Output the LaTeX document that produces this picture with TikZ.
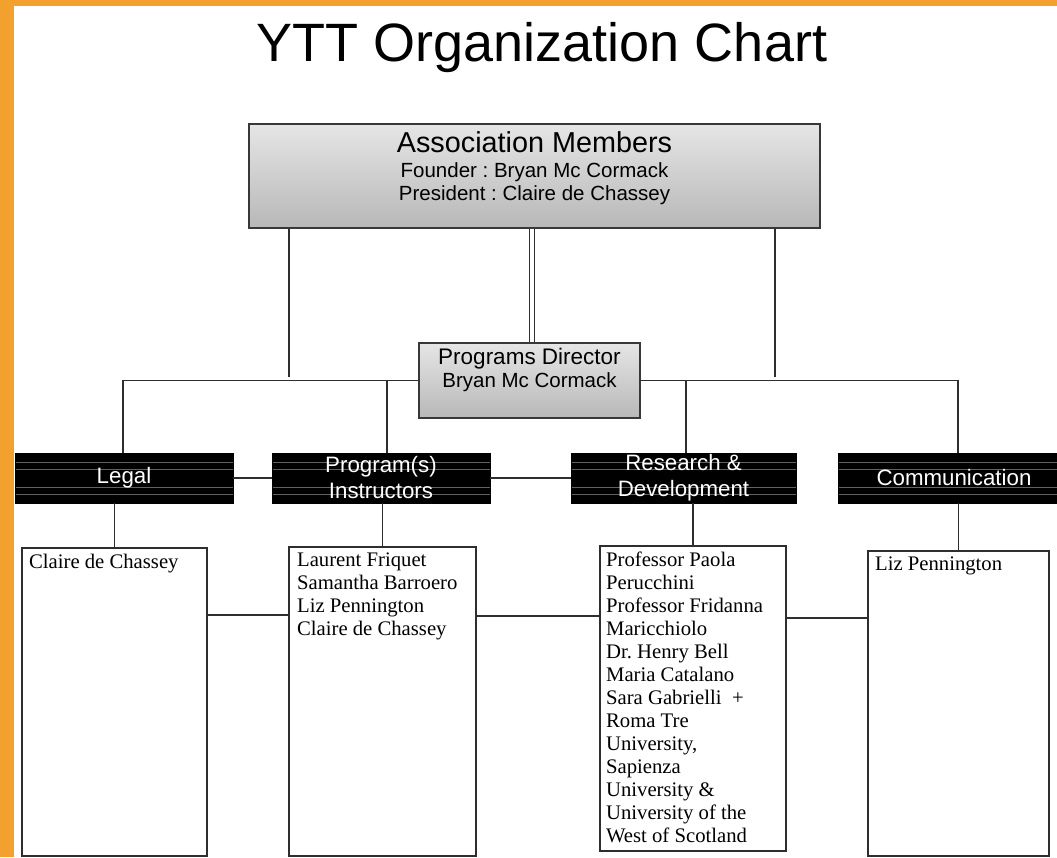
\documentclass[tikz,border=0pt]{standalone}
\usepackage{fontspec}
\setmainfont{Liberation Sans}
\newfontfamily\namefont{Liberation Serif}
\definecolor{frameorange}{RGB}{242,160,46}
\frenchspacing

\begin{document}
\begin{tikzpicture}[x=1pt,y=-1pt]
  \tikzset{graybox/.style={draw=black!78,line width=1.8pt,top color=black!10,bottom color=black!28,inner sep=0pt},
    blackbox/.style={draw=black,fill=black,text=white,align=center,inner ysep=0pt,minimum height=50pt,
      font=\fontsize{22.3}{26}\selectfont,
      path picture={\foreach \s in {9,16.5,34,41.5}{\draw[black!62,line width=0.5pt] ([yshift=-\s pt]path picture bounding box.north west) -- ([yshift=-\s pt]path picture bounding box.north east);}}},
    namebox/.style={draw=black!82,line width=2.2pt,fill=white,inner sep=0pt},
    names/.style={anchor=north west,align=left,inner sep=0pt,font=\namefont\fontsize{20.7}{23}\selectfont},
    link/.style={draw=black!82,line width=1.8pt},
    dbl/.style={draw=black!82,line width=1.3pt,double=white,double distance=4pt}}

  \clip (0,0) rectangle (1057,857);
  \fill[white] (0,0) rectangle (1057,857);
  \fill[frameorange] (0,0) rectangle (1057,6);
  \fill[frameorange] (0,0) rectangle (14,857);

  \node[anchor=base,inner sep=0pt,font=\fontsize{54}{60}\selectfont] (title) at (542,61) {YTT Organization Chart};

  % top of the chart
  \node[graybox,minimum width=571pt,minimum height=104pt] (assoc) at (534.5,176) {};
  \node[anchor=base,inner sep=0pt,font=\fontsize{28.8}{32}\selectfont] at ([yshift=-29pt]assoc.north) {Association Members};
  \node[anchor=base,inner sep=0pt,font=\fontsize{20.5}{23}\selectfont] at ([yshift=-54pt]assoc.north) {Founder : Bryan Mc Cormack};
  \node[anchor=base,inner sep=0pt,font=\fontsize{20.5}{23}\selectfont] at ([yshift=-77pt]assoc.north) {President : Claire de Chassey};

  \node[graybox,minimum width=221pt,minimum height=75pt] (director) at (529.5,380.5) {};
  \node[anchor=base,inner sep=0pt,font=\fontsize{22.5}{25}\selectfont] at ([yshift=-22pt]director.north) {Programs Director};
  \node[anchor=base,inner sep=0pt,font=\fontsize{20.5}{23}\selectfont] at ([yshift=-45pt]director.north) {Bryan Mc Cormack};

  \coordinate (spine) at (532,0);
  \coordinate (stubL) at (289,377);
  \coordinate (stubR) at (775,377);
  \draw[dbl] (spine |- assoc.south) -- (spine |- director.north);
  \draw[link] (stubL |- assoc.south) -- (stubL);
  \draw[link] (stubR |- assoc.south) -- (stubR);

  % departments
  \node[blackbox,minimum width=218pt] (legal) at (124,478) {Legal};
  \node[blackbox,minimum width=218pt] (instr) at (381,478) {Program(s)\\Instructors};
  \node[blackbox,minimum width=225pt] (research) at (683.5,478) {Research \&\\Development};
  \node[blackbox,minimum width=232pt] (comm) at (954,478) {Communication};

  \draw[link] (director.west) -| ([xshift=-1pt]legal.north);
  \draw[link] ([xshift=6pt]instr.north) |- (director.west);
  \draw[link] (director.east) -| ([xshift=4pt]comm.north);
  \draw[link] ([xshift=2.5pt]research.north) |- (director.east);
  \draw[link] (legal) -- (instr);
  \draw[link] (instr) -- (research);

  % people
  \node[namebox,minimum width=185pt,minimum height=308pt] (legalbox) at (114.5,702) {};
  \node[namebox,minimum width=187pt,minimum height=309pt] (instrbox) at (382.5,701.5) {};
  \node[namebox,minimum width=186pt,minimum height=305pt] (rdbox) at (693,698.5) {};
  \node[namebox,minimum width=181pt,minimum height=305pt] (commbox) at (958.5,703.5) {};

  \node[names] at ([xshift=8pt,yshift=-7pt]legalbox.north west) {Claire de Chassey};
  \node[names] at ([xshift=9pt,yshift=-7pt]instrbox.north west) {Laurent Friquet\\Samantha Barroero\\Liz Pennington\\Claire de Chassey};
  \node[names] at ([xshift=7pt,yshift=-7pt]rdbox.north west) {Professor Paola\\Perucchini\\Professor Fridanna\\Maricchiolo\\Dr. Henry Bell\\Maria Catalano\\Sara Gabrielli~ +\\Roma Tre\\University,\\Sapienza\\University \&\\University of the\\West of Scotland};
  \node[names] at ([xshift=8pt,yshift=-7pt]commbox.north west) {Liz Pennington};

  \draw[link] (legalbox.north |- legal.south) -- (legalbox.north);
  \draw[link] (instrbox.north |- instr.south) -- (instrbox.north);
  \draw[link] (rdbox.north |- research.south) -- (rdbox.north);
  \draw[link] (commbox.north |- comm.south) -- (commbox.north);

  \draw[link] ([yshift=-68pt]legalbox.north east) coordinate (lk1) -- (lk1 -| instrbox.west);
  \draw[link] ([yshift=-70pt]instrbox.north east) coordinate (lk2) -- (lk2 -| rdbox.west);
  \draw[link] ([yshift=-73pt]rdbox.north east) coordinate (lk3) -- (lk3 -| commbox.west);
\end{tikzpicture}
\end{document}
